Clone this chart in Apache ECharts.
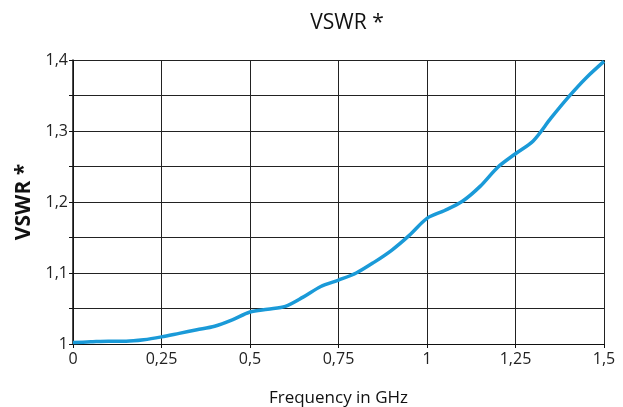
<!DOCTYPE html>
<html>
<head>
<meta charset="utf-8">
<script src="https://cdn.jsdelivr.net/npm/echarts@6/dist/echarts.min.js"></script>
<style>
  html, body { margin: 0; padding: 0; background: #fff; }
  #chart { width: 623px; height: 407px; }
</style>
</head>
<body>
<div id="chart"></div>
<script>
// Frequency sweep (GHz) and measured VSWR
const frequency = [0, 0.05, 0.1, 0.15, 0.2, 0.25, 0.3, 0.35, 0.4, 0.45, 0.5, 0.55, 0.6, 0.65, 0.7, 0.75,
                   0.8, 0.85, 0.9, 0.95, 1.0, 1.05, 1.1, 1.15, 1.2, 1.25, 1.3, 1.35, 1.4, 1.45, 1.5];
const vswr = [1.002, 1.003, 1.004, 1.004, 1.006, 1.010, 1.015, 1.020, 1.025, 1.034, 1.045, 1.049, 1.053, 1.066, 1.081, 1.090,
              1.100, 1.115, 1.132, 1.153, 1.177, 1.188, 1.201, 1.222, 1.249, 1.268, 1.286, 1.318, 1.348, 1.375, 1.398];

const titleText = 'VSWR *';
const xName = 'Frequency in GHz';
const yName = 'VSWR *';

const fmt = v => String(+v.toFixed(2)).replace('.', ',');
const FONT = '"Open Sans", "Noto Sans", sans-serif';

const chart = echarts.init(document.getElementById('chart'));
chart.setOption({
  animation: false,
  title: {
    text: titleText,
    left: 342, top: 8, textAlign: 'center',
    textStyle: { fontFamily: FONT, fontSize: 21, fontWeight: 'normal', color: '#111' }
  },
  grid: { left: 73, right: 19, top: 60, bottom: 63, outerBoundsMode: 'none', containLabel: false },
  xAxis: {
    type: 'value', min: 0, max: 1.5, interval: 0.25,
    name: xName, nameLocation: 'middle', nameGap: 46,
    nameTextStyle: { fontFamily: FONT, fontSize: 17, color: '#111' },
    axisLine: { show: true, lineStyle: { color: '#111', width: 1 } },
    axisTick: { show: true, length: 4, lineStyle: { color: '#111' } },
    axisLabel: { formatter: fmt, fontFamily: FONT, fontSize: 16, color: '#222', margin: 7 },
    splitLine: { show: true, lineStyle: { color: '#222', width: 1 } }
  },
  yAxis: {
    type: 'value', min: 1, max: 1.4, interval: 0.05,
    name: yName, nameLocation: 'middle', nameGap: 37, nameRotate: 90,
    nameTextStyle: { fontFamily: FONT, fontSize: 21, fontWeight: 'bold', color: '#111' },
    axisLine: { show: true, lineStyle: { color: '#111', width: 1.5 } },
    axisTick: { show: true, length: 4, lineStyle: { color: '#111' } },
    axisLabel: {
      fontFamily: FONT, fontSize: 16, color: '#222', margin: 5,
      formatter: v => (Math.round(v * 100) % 10 === 0 ? fmt(v) : '')
    },
    splitLine: { show: true, lineStyle: { color: '#222', width: 1 } }
  },
  series: [{
    type: 'line',
    data: frequency.map((f, i) => [f, vswr[i]]),
    showSymbol: false,
    smooth: 0.3,
    lineStyle: { color: '#1a9ad8', width: 3.5 }
  }]
});
</script>
</body>
</html>
